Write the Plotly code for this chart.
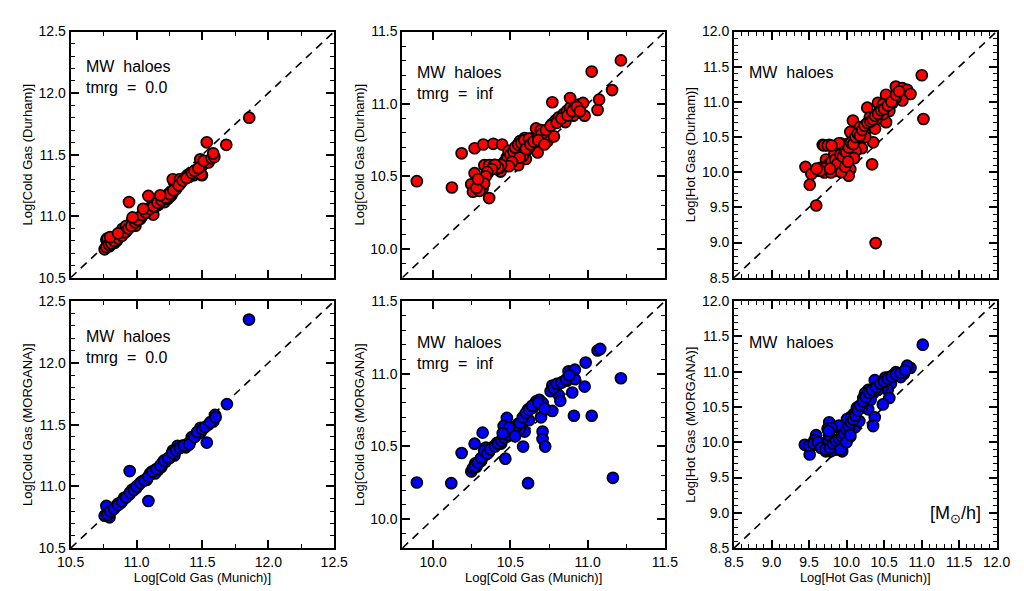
import plotly.graph_objects as go
from plotly.subplots import make_subplots

# axis ranges (same on x and y in each column) and first labelled tick
cold_rng = [10.5, 12.5]
inf_rng = [9.8, 11.5]
hot_rng = [8.5, 12.0]
cold_tick0 = 10.5
inf_tick0 = 10.0
hot_tick0 = 8.5

# --- top row: Durham vs Munich ---
cold0_munich = [10.758, 10.771, 10.795, 10.832, 10.869, 10.894, 10.918, 10.955, 10.967, 10.992,
                11.017, 11.041, 11.066, 11.090, 11.115, 11.127, 11.140, 11.164, 11.189, 11.213,
                11.238, 11.263, 11.275, 11.287, 11.312, 11.336, 11.361, 11.386, 11.410, 11.435,
                11.459, 11.484, 11.496, 11.509, 11.484, 11.546, 11.275,
                10.78, 10.80, 10.85, 10.88, 10.93, 10.98, 11.03, 11.06, 11.12, 11.17,
                11.21, 11.25, 11.30, 11.33, 11.40, 11.45, 11.49, 10.78, 10.92, 11.00,
                10.77, 10.79, 10.81, 10.83, 10.86, 10.89, 10.91, 10.94, 10.96, 10.99,
                11.01, 11.04, 11.07, 11.10, 11.13, 11.16, 11.19, 11.22, 11.25, 11.28,
                11.32, 11.35, 11.38, 11.42, 11.44, 11.47, 11.51, 11.57, 11.59, 10.80,
                10.86, 10.97, 11.05, 11.18,
                10.943, 11.090, 11.533, 11.681, 11.582, 11.855]
cold0_durham = [10.731, 10.808, 10.756, 10.782, 10.833, 10.897, 10.872, 10.936, 10.962, 10.923,
                10.987, 11.000, 11.026, 11.038, 11.064, 11.013, 11.077, 11.090, 11.115, 11.115,
                11.141, 11.167, 11.192, 11.269, 11.295, 11.269, 11.308, 11.333, 11.346, 11.333,
                11.372, 11.385, 11.333, 11.423, 11.462, 11.436, 11.300,
                10.76, 10.79, 10.80, 10.85, 10.89, 10.95, 10.98, 11.04, 11.09, 11.10,
                11.14, 11.16, 11.22, 11.30, 11.32, 11.36, 11.34, 10.82, 10.92, 10.98,
                10.75, 10.77, 10.78, 10.80, 10.82, 10.84, 10.87, 10.90, 10.92, 10.95,
                10.97, 11.01, 11.03, 11.06, 11.08, 11.11, 11.13, 11.15, 11.18, 11.21,
                11.25, 11.29, 11.31, 11.35, 11.37, 11.39, 11.45, 11.47, 11.48, 10.83,
                10.86, 10.99, 11.06, 11.17,
                11.115, 11.165, 11.600, 11.580, 11.510, 11.800]

coldinf_munich = [9.894, 10.121, 10.184, 10.268, 10.324, 10.389, 10.446, 10.362, 10.246, 10.257,
                  10.268, 10.331, 10.324, 10.320, 10.352, 10.362, 10.394, 10.436, 10.456, 10.477,
                  10.488, 10.498, 10.519, 10.540, 10.550, 10.561, 10.571, 10.582, 10.592, 10.603,
                  10.613, 10.624, 10.634, 10.645, 10.666, 10.676, 10.666, 10.697, 10.718, 10.739,
                  10.781, 10.771, 10.792, 10.813, 10.834, 10.844, 10.855, 10.865, 10.886, 10.907,
                  10.917, 10.938, 10.970, 10.771, 10.886, 10.980, 11.064, 11.074, 11.026, 11.158,
                  11.215, 10.50, 10.47, 10.43, 10.53, 10.60, 10.62, 10.58, 10.41, 10.55,
                  10.46, 10.48, 10.50, 10.52, 10.53, 10.55, 10.57, 10.59, 10.60, 10.62,
                  10.63, 10.65, 10.56, 10.51, 10.49, 10.44, 10.42, 10.40, 10.38, 10.35,
                  10.34, 10.70, 10.73, 10.76, 10.80, 10.83, 10.87, 10.90, 10.93, 10.95,
                  10.68, 10.72, 10.33, 10.30, 10.28, 10.29]
coldinf_durham = [10.467, 10.423, 10.659, 10.694, 10.720, 10.725, 10.720, 10.350, 10.445, 10.394,
                  10.522, 10.577, 10.478, 10.416, 10.522, 10.577, 10.577, 10.533, 10.588, 10.632,
                  10.676, 10.588, 10.654, 10.698, 10.577, 10.743, 10.654, 10.698, 10.765, 10.720,
                  10.687, 10.743, 10.709, 10.765, 10.698, 10.665, 10.831, 10.820, 10.776, 10.743,
                  10.776, 10.864, 10.886, 10.908, 10.897, 10.930, 10.875, 10.952, 10.974, 10.919,
                  10.985, 10.996, 11.007, 11.012, 11.041, 10.919, 10.959, 11.030, 11.224, 11.096,
                  11.301, 10.62, 10.60, 10.56, 10.66, 10.62, 10.70, 10.64, 10.55, 10.72,
                  10.60, 10.62, 10.65, 10.67, 10.70, 10.72, 10.73, 10.75, 10.69, 10.76,
                  10.72, 10.74, 10.63, 10.60, 10.57, 10.58, 10.56, 10.58, 10.55, 10.53,
                  10.50, 10.79, 10.82, 10.85, 10.87, 10.90, 10.92, 10.95, 10.98, 10.95,
                  10.75, 10.72, 10.45, 10.40, 10.42, 10.48]

hot_munich = [11.003, 11.025, 10.388, 9.596, 9.510, 9.453, 10.341, 10.355, 10.203, 10.085,
              10.276, 10.419, 10.527, 10.657, 10.744, 10.809, 10.852, 10.744, 10.657, 10.614,
              10.570, 10.527, 10.484, 10.440, 10.397, 10.310, 10.267, 10.245, 10.180, 10.158,
              10.115, 10.050, 10.029, 10.072, 10.007, 9.964, 9.921, 9.986, 9.943, 9.921,
              9.878, 9.834, 9.791, 9.747, 9.726, 9.683, 9.769, 9.661, 9.596, 9.531,
              10.050, 10.029, 9.856, 9.899, 10.484, 9.704, 9.791, 10.12, 10.25, 10.38,
              9.75, 9.80, 9.85, 9.88, 9.92, 9.95, 9.98, 10.00, 10.03, 10.06,
              10.09, 10.12, 10.15, 10.18, 10.21, 10.24, 10.28, 10.32, 10.35, 10.38,
              10.42, 10.46, 10.50, 10.55, 10.60, 10.66, 10.70, 9.70, 9.65, 9.60,
              9.78, 9.70, 9.75, 9.80, 9.93, 9.98, 10.10, 10.02]
hot_durham = [11.379, 10.757, 8.993, 9.527, 9.822, 10.075, 10.112, 10.425, 10.342, 10.734,
              10.918, 10.987, 11.102, 11.218, 11.195, 11.172, 11.112, 11.020, 11.056, 10.987,
              10.872, 10.711, 10.826, 10.872, 10.757, 10.780, 10.688, 10.573, 10.642, 10.504,
              10.458, 10.573, 10.412, 10.319, 10.250, 10.319, 10.412, 10.158, 10.089, 10.204,
              10.158, 10.250, 10.135, 10.066, 10.181, 10.389, 10.389, 10.066, 10.020, 9.974,
              10.043, 9.951, 10.020, 10.412, 10.964, 9.997, 9.997, 10.30, 10.50, 10.62,
              10.10, 10.15, 10.18, 10.12, 10.25, 10.22, 10.30, 10.28, 10.35, 10.42,
              10.40, 10.50, 10.55, 10.52, 10.60, 10.66, 10.70, 10.72, 10.75, 10.80,
              10.83, 10.88, 10.90, 10.95, 11.00, 11.10, 11.15, 10.05, 10.02, 10.05,
              10.05, 10.38, 10.38, 10.38, 10.00, 10.08, 10.20, 10.15]

# --- bottom row: MORGANA vs Munich ---
cold0_munich_b = [11.853, 11.686, 11.595, 11.583, 11.546, 11.533, 11.484, 11.484, 11.447, 11.410,
                  11.386, 11.373, 11.312, 11.275, 11.287, 11.238, 11.201, 11.189, 11.164, 11.140,
                  11.103, 11.078, 11.041, 11.017, 10.992, 10.967, 10.943, 10.906, 10.882, 10.845,
                  10.820, 10.783, 10.771, 10.758, 10.795, 10.948, 11.090,
                  11.35, 11.42, 11.25, 11.22, 11.12, 11.06, 10.95, 10.86, 10.80, 11.00,
                  10.78, 10.80, 10.83, 10.86, 10.89, 10.92, 10.95, 10.98, 11.00, 11.03,
                  11.06, 11.09, 11.12, 11.15, 11.18, 11.21, 11.24, 11.27, 11.30, 11.33,
                  11.36, 11.40, 11.44, 11.46, 11.50, 11.52, 11.56, 11.60]
cold0_morgana = [12.350, 11.666, 11.579, 11.526, 11.500, 11.355, 11.474, 11.434, 11.408, 11.368,
                 11.342, 11.316, 11.329, 11.289, 11.250, 11.224, 11.197, 11.158, 11.132, 11.105,
                 11.105, 11.053, 11.039, 11.013, 10.987, 10.974, 10.934, 10.908, 10.868, 10.842,
                 10.816, 10.789, 10.842, 10.763, 10.750, 11.124, 10.882,
                 11.33, 11.40, 11.23, 11.20, 11.12, 11.05, 10.94, 10.86, 10.79, 10.99,
                 10.77, 10.80, 10.82, 10.85, 10.88, 10.91, 10.95, 10.97, 11.00, 11.03,
                 11.05, 11.08, 11.12, 11.14, 11.17, 11.21, 11.23, 11.27, 11.29, 11.31,
                 11.33, 11.34, 11.40, 11.44, 11.46, 11.48, 11.52, 11.56]

coldinf_munich_b = [9.894, 10.117, 10.614, 11.163, 11.215, 10.184, 10.320, 10.268, 10.247, 10.257,
                    10.272, 10.310, 10.331, 10.352, 10.341, 10.394, 10.467, 10.456, 10.477, 10.498,
                    10.519, 10.540, 10.550, 10.582, 10.603, 10.614, 10.645, 10.666, 10.687, 10.708,
                    10.729, 10.771, 10.477, 10.456, 10.582, 10.592, 10.698, 10.708, 10.708, 10.725,
                    10.771, 10.792, 10.813, 10.823, 10.834, 10.865, 10.876, 10.897, 10.917, 10.900,
                    10.980, 10.911, 11.026, 10.987, 11.064, 11.081, 10.917, 10.414,
                    10.36, 10.44, 10.50, 10.53, 10.56, 10.62, 10.31, 10.28,
                    10.27, 10.29, 10.31, 10.33, 10.35, 10.37, 10.40, 10.42, 10.44, 10.46,
                    10.48, 10.50, 10.52, 10.54, 10.56, 10.58, 10.60, 10.62, 10.64, 10.68,
                    10.72, 10.76, 10.78, 10.80, 10.83, 10.86, 10.88, 10.49, 10.45, 10.53]
coldinf_morgana = [10.252, 10.247, 10.247, 10.284, 10.969, 10.455, 10.595, 10.519, 10.328, 10.350,
                   10.383, 10.405, 10.438, 10.460, 10.492, 10.503, 10.416, 10.558, 10.569, 10.591,
                   10.613, 10.635, 10.656, 10.678, 10.722, 10.755, 10.766, 10.810, 10.821, 10.799,
                   10.755, 10.744, 10.696, 10.641, 10.499, 10.602, 10.700, 10.602, 10.551, 10.499,
                   10.919, 10.886, 10.853, 10.814, 10.941, 10.952, 11.017, 11.007, 10.963, 10.871,
                   10.912, 10.711, 10.711, 11.077, 11.160, 11.171, 11.028, 10.525,
                   10.46, 10.52, 10.58, 10.60, 10.62, 10.68, 10.40, 10.36,
                   10.36, 10.39, 10.42, 10.47, 10.45, 10.48, 10.50, 10.52, 10.54, 10.56,
                   10.58, 10.60, 10.62, 10.64, 10.66, 10.70, 10.73, 10.75, 10.78, 10.80,
                   10.76, 10.88, 10.90, 10.93, 10.94, 10.96, 10.99, 10.63, 10.59, 10.57]

hot_munich_b = [11.016, 10.852, 10.808, 10.765, 10.722, 10.657, 10.613, 10.570, 10.514, 10.592,
                10.549, 10.484, 10.419, 10.398, 10.376, 10.570, 10.484, 10.354, 10.289, 10.246,
                10.224, 10.267, 10.289, 10.376, 10.354, 10.202, 10.137, 10.094, 10.050, 10.072,
                10.115, 10.029, 9.986, 9.942, 9.921, 9.899, 9.942, 9.855, 9.812, 9.790,
                9.747, 9.725, 9.704, 9.769, 9.769, 9.747, 9.899, 9.595, 9.574, 9.552,
                9.509, 9.444, 9.509, 10.007, 10.17, 10.05, 9.96, 10.32,
                9.50, 9.56, 9.62, 9.66, 9.72, 9.78, 9.82, 9.86, 9.90, 9.94,
                9.97, 10.00, 10.03, 10.06, 10.09, 10.12, 10.15, 10.18, 10.22, 10.26,
                10.30, 10.34, 10.40, 10.45, 10.50, 10.55, 10.60, 10.66, 10.72, 10.78,
                9.92, 10.00, 10.05, 9.80, 9.76]
hot_morgana = [11.382, 11.053, 11.085, 10.970, 10.924, 10.993, 10.947, 10.924, 10.915, 10.833,
               10.742, 10.787, 10.742, 10.833, 10.879, 10.627, 10.536, 10.696, 10.742, 10.696,
               10.627, 10.559, 10.467, 10.353, 10.229, 10.490, 10.490, 10.398, 10.353, 10.284,
               10.215, 10.193, 10.147, 10.124, 10.032, 9.964, 9.872, 9.895, 9.941, 9.872,
               9.918, 9.872, 9.987, 10.101, 10.284, 10.193, 10.238, 10.101, 10.032, 9.964,
               9.918, 9.964, 9.827, 10.330, 10.30, 10.08, 10.00, 10.60,
               9.95, 9.98, 10.00, 9.92, 9.90, 9.92, 9.98, 10.02, 10.05, 10.08,
               10.12, 10.18, 10.22, 10.28, 10.32, 10.38, 10.45, 10.52, 10.58, 10.64,
               10.70, 10.74, 10.78, 10.83, 10.86, 10.90, 10.93, 10.96, 10.98, 11.02,
               9.90, 10.00, 10.10, 10.20, 10.16]

panels = [
    # row, col, x, y, colour, range, first tick, x minor step, x title, y title, label
    (1, 1, cold0_munich, cold0_durham, "#FF0000", cold_rng, cold_tick0, 0.25, None, "Log[Cold Gas (Durham)]", "MW  haloes<br>tmrg  =  0.0"),
    (1, 2, coldinf_munich, coldinf_durham, "#FF0000", inf_rng, inf_tick0, 0.25, None, "Log[Cold Gas (Durham)]", "MW  haloes<br>tmrg  =  inf"),
    (1, 3, hot_munich, hot_durham, "#FF0000", hot_rng, hot_tick0, 0.1, None, "Log[Hot Gas (Durham)]", "MW  haloes"),
    (2, 1, cold0_munich_b, cold0_morgana, "#0000FF", cold_rng, cold_tick0, 0.25, "Log[Cold Gas (Munich)]", "Log[Cold Gas (MORGANA)]", "MW  haloes<br>tmrg  =  0.0"),
    (2, 2, coldinf_munich_b, coldinf_morgana, "#0000FF", inf_rng, inf_tick0, 0.25, "Log[Cold Gas (Munich)]", "Log[Cold Gas (MORGANA)]", "MW  haloes<br>tmrg  =  inf"),
    (2, 3, hot_munich_b, hot_morgana, "#0000FF", hot_rng, hot_tick0, 0.1, "Log[Hot Gas (Munich)]", "Log[Hot Gas (MORGANA)]", "MW  haloes"),
]

fig = make_subplots(rows=2, cols=3)

xdom = [[50/1024, 321/1024], [391/1024, 661/1024], [732/1024, 1002/1024]]
ydom = [[1-269/591, 1-16/591], [1-547/591, 1-293/591]]
font = "Liberation Sans"

for i, (r, c, xs, ys, col, rng, t0, xminor, xt, yt, lab) in enumerate(panels):
    # one-to-one line
    fig.add_trace(go.Scatter(x=rng, y=rng, mode="lines",
                             line=dict(color="black", width=1.6, dash="8px,6px"),
                             showlegend=False), row=r, col=c)
    fig.add_trace(go.Scatter(x=xs, y=ys, mode="markers",
                             marker=dict(color=col, size=11, line=dict(color="black", width=1.7)),
                             showlegend=False), row=r, col=c)

    axis_style = dict(range=rng, dtick=0.5, tick0=t0,
                      ticks="inside", ticklen=8, tickwidth=1.5, tickcolor="black",
                      tickformat=".1f", tickfont=dict(family=font, size=14, color="black"),
                      showline=True, linecolor="black", linewidth=2, mirror="allticks",
                      showgrid=False, zeroline=False)
    fig.update_xaxes(domain=xdom[c-1], showticklabels=(r == 2),
                     minor=dict(dtick=xminor, ticks="inside", ticklen=4, tickcolor="black", tickwidth=1.2),
                     row=r, col=c, **axis_style)
    if xt:
        fig.update_xaxes(title=dict(text=xt, standoff=3, font=dict(family=font, size=13, color="black")),
                         row=r, col=c)
    fig.update_yaxes(domain=ydom[r-1],
                     minor=dict(dtick=0.1, ticks="inside", ticklen=4, tickcolor="black", tickwidth=1.2),
                     title=dict(text=yt, standoff=3, font=dict(family=font, size=13, color="black")),
                     row=r, col=c, **axis_style)

    xa = "x" + ("" if i == 0 else str(i + 1))
    ya = "y" + ("" if i == 0 else str(i + 1))
    ytop = 0.9 if c == 1 else 0.875
    fig.add_annotation(x=0.05, y=ytop, xref=xa + " domain", yref=ya + " domain",
                       text=lab, showarrow=False, xanchor="left", yanchor="top", align="left",
                       font=dict(size=16, color="black", family=font))

fig.add_annotation(x=0.95, y=0.08, xref="x6 domain", yref="y6 domain",
                   text="[M<sub>⊙</sub>/h]", showarrow=False, xanchor="right", yanchor="bottom",
                   font=dict(size=18, color="black", family=font))

fig.update_layout(width=1024, height=591, margin=dict(l=0, r=0, t=0, b=0),
                  plot_bgcolor="white", showlegend=False)

fig.write_html("out.html")
